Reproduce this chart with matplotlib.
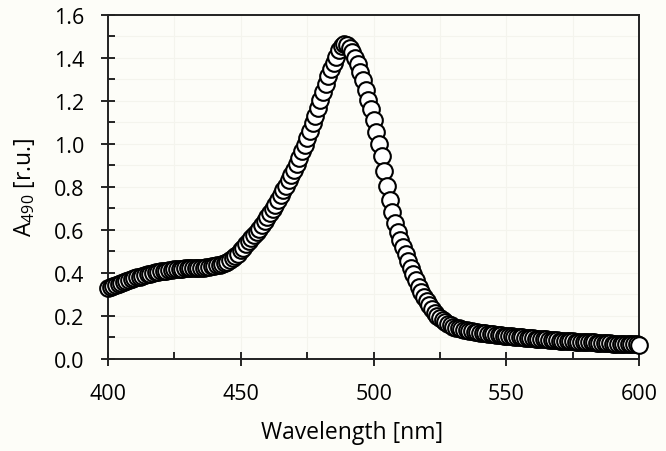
import matplotlib
matplotlib.use("Agg")
import matplotlib.pyplot as plt
from matplotlib.ticker import MultipleLocator

wavelength = list(range(400, 601))

abs_400_449 = [0.328, 0.334, 0.339, 0.344, 0.349, 0.354, 0.358, 0.363, 0.367, 0.371,
               0.375, 0.379, 0.383, 0.386, 0.390, 0.393, 0.396, 0.399, 0.402, 0.404,
               0.407, 0.409, 0.411, 0.413, 0.415, 0.416, 0.418, 0.419, 0.420, 0.421,
               0.421, 0.422, 0.422, 0.423, 0.423, 0.424, 0.425, 0.426, 0.428, 0.430,
               0.432, 0.435, 0.438, 0.442, 0.447, 0.453, 0.460, 0.468, 0.478, 0.490]
abs_450_499 = [0.505, 0.518, 0.532, 0.546, 0.560, 0.575, 0.590, 0.606, 0.622, 0.640,
               0.658, 0.677, 0.697, 0.717, 0.738, 0.760, 0.783, 0.806, 0.830, 0.855,
               0.880, 0.907, 0.935, 0.965, 0.995, 1.027, 1.060, 1.095, 1.130, 1.167,
               1.203, 1.240, 1.277, 1.313, 1.346, 1.377, 1.405, 1.435, 1.455, 1.464,
               1.460, 1.447, 1.425, 1.400, 1.370, 1.335, 1.295, 1.250, 1.205, 1.160]
abs_500_549 = [1.110, 1.055, 1.000, 0.945, 0.875, 0.805, 0.740, 0.685, 0.632, 0.590,
               0.555, 0.520, 0.488, 0.455, 0.425, 0.395, 0.365, 0.335, 0.310, 0.290,
               0.270, 0.250, 0.232, 0.216, 0.202, 0.190, 0.180, 0.171, 0.163, 0.156,
               0.150, 0.146, 0.142, 0.139, 0.136, 0.133, 0.131, 0.129, 0.127, 0.125,
               0.123, 0.121, 0.119, 0.118, 0.116, 0.115, 0.113, 0.112, 0.111, 0.109]
abs_550_600 = [0.108, 0.106, 0.105, 0.104, 0.103, 0.101, 0.100, 0.099, 0.098, 0.097,
               0.096, 0.095, 0.094, 0.093, 0.092, 0.091, 0.090, 0.089, 0.088, 0.087,
               0.086, 0.085, 0.085, 0.084, 0.083, 0.082, 0.081, 0.081, 0.080, 0.079,
               0.079, 0.078, 0.077, 0.077, 0.076, 0.075, 0.075, 0.074, 0.074, 0.073,
               0.072, 0.072, 0.071, 0.071, 0.070, 0.070, 0.069, 0.069, 0.068, 0.068,
               0.067]
absorbance = abs_400_449 + abs_450_499 + abs_500_549 + abs_550_600

x_ticks = [400, 450, 500, 550, 600]
y_ticks = [0.0, 0.2, 0.4, 0.6, 0.8, 1.0, 1.2, 1.4, 1.6]

plt.rcParams['font.family'] = ['Open Sans', 'DejaVu Sans']
plt.rcParams['mathtext.fontset'] = 'custom'
plt.rcParams['mathtext.rm'] = 'Open Sans'

bg = '#fdfdf8'
fig = plt.figure(figsize=(6.66, 4.52), dpi=100, facecolor=bg)
ax = fig.add_axes([0.162, 0.2035, 0.798, 0.762])
ax.set_facecolor(bg)

ax.plot(wavelength, absorbance, linestyle='none', marker='o', markersize=12,
        markerfacecolor='white', markeredgecolor='black', markeredgewidth=1.5,
        clip_on=False, zorder=3)

ax.set_xlim(400, 600)
ax.set_ylim(0, 1.6)
ax.set_xticks(x_ticks)
ax.set_yticks(y_ticks)
ax.set_yticklabels([f"{v:.1f}" for v in y_ticks])
ax.xaxis.set_minor_locator(MultipleLocator(25))
ax.yaxis.set_minor_locator(MultipleLocator(0.1))

ax.grid(True, which='both', color='#f4f4ed', linewidth=0.8, zorder=0)
ax.set_axisbelow(True)

ax.tick_params(which='major', direction='inout', length=10, width=1.2,
               labelsize=15.5, pad=12, color='black')
ax.tick_params(which='minor', direction='in', length=5, width=1.2, color='black')
for s in ax.spines.values():
    s.set_linewidth(1.4)
    s.set_color('#222222')

ax.set_xlabel('Wavelength [nm]', fontsize=16.5)
ax.set_ylabel(r'A$_{\mathregular{490}}$ [r.u.]', fontsize=16.5)
ax.xaxis.set_label_coords(0.46, -0.178)
ax.yaxis.set_label_coords(-0.134, 0.5)

fig.savefig('out.png', dpi=100, facecolor=bg)
